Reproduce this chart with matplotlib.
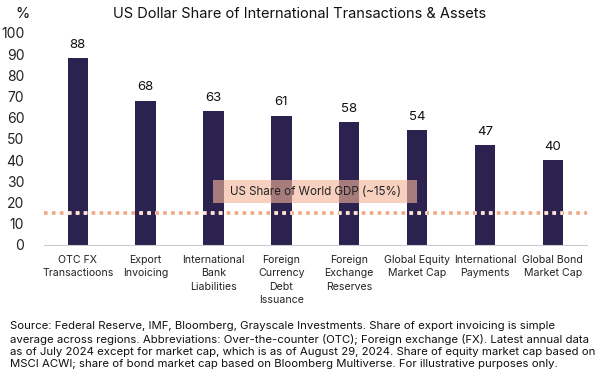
import matplotlib
matplotlib.use("Agg")
import matplotlib.pyplot as plt
from matplotlib.patches import Rectangle

# --- DATA ---
categories = ["OTC FX\nTransactioons", "Export\nInvoicing", "International\nBank\nLiabilities",
              "Foreign\nCurrency\nDebt\nIssuance", "Foreign\nExchange\nReserves",
              "Global Equity\nMarket Cap", "International\nPayments", "Global Bond\nMarket Cap"]
usd_share = [88, 68, 63, 61, 58, 54, 47, 40]
gdp_share = 15
yticks = [0, 10, 20, 30, 40, 50, 60, 70, 80, 90, 100]

title = "US Dollar Share of International Transactions & Assets"
gdp_label = "US Share of World GDP (~15%)"
footnote = ("Source: Federal Reserve, IMF, Bloomberg, Grayscale Investments. Share of export invoicing is simple\n"
            "average across regions. Abbreviations: Over-the-counter (OTC); Foreign exchange (FX). Latest annual data\n"
            "as of July 2024 except for market cap, which is as of August 29, 2024. Share of equity market cap based on\n"
            "MSCI ACWI; share of bond market cap based on Bloomberg Multiverse. For illustrative purposes only.")

BAR = "#2b2250"
SALMON = "#f2a585"
DOT = (0, (1, 1.2))

plt.rcParams['font.family'] = ['Inter', 'DejaVu Sans']

fig = plt.figure(figsize=(6, 3.78), dpi=100)
ax = fig.add_axes([0.073, 0.352, 0.905, 0.561])

x = list(range(len(categories)))
bars = ax.bar(x, usd_share, width=0.30, color=BAR, zorder=2)
for xi, v in zip(x, usd_share):
    ax.text(xi, v + 3.5, str(v), ha='center', va='bottom', fontsize=9.5, color='#111111')

# linea del PIB (puntos claros encima de las barras)
ax.axhline(gdp_share, color=SALMON, lw=2.6, ls=DOT, zorder=3)
for b in bars:
    ln = ax.axhline(gdp_share, color='#fbe6dc', lw=2.6, ls=DOT, zorder=3.5)
    ln.set_clip_path(b)

# caja de la etiqueta
ax.add_patch(Rectangle((2, gdp_share + 5), 3, 10.4, facecolor='#f3b49a', edgecolor='none',
                       alpha=0.62, zorder=4))
ax.text(3.5, gdp_share + 10.2, gdp_label, ha='center', va='center', fontsize=8.3, color='#222222', zorder=5)

ax.set_xlim(-0.5, 7.5)
ax.set_ylim(0, 100)
ax.set_yticks(yticks)
ax.set_xticks(x)
ax.set_xticklabels(categories, fontsize=7.6, color='#222222', linespacing=1.45)
ax.tick_params(axis='y', labelsize=10, length=0, pad=14, colors='#222222')
ax.tick_params(axis='x', length=0, pad=7)
for s in ['top', 'right', 'left']:
    ax.spines[s].set_visible(False)
ax.spines['bottom'].set_color('#cccccc')
ax.spines['bottom'].set_linewidth(0.8)

fig.text(0.5, 0.962, title, ha='center', va='center', fontsize=10.5, color='#111111')
fig.text(0.037, 0.962, "%", ha='center', va='center', fontsize=10.5, color='#111111')
fig.text(0.017, 0.087, footnote, ha='left', va='center', fontsize=8.2, color='#111111', linespacing=1.3)

fig.savefig("out.png", dpi=100)
